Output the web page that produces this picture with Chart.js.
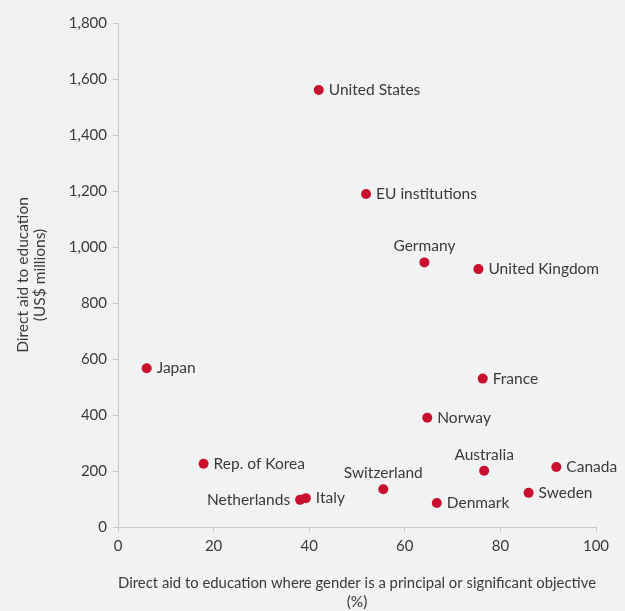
<!DOCTYPE html>
<html><head><meta charset="utf-8">
<script src="https://cdn.jsdelivr.net/npm/chart.js@4/dist/chart.umd.min.js"></script>
<style>html,body{margin:0;padding:0;background:#f1f2f4;}#wrap{width:625px;height:611px;}</style>
</head><body><div id="wrap"><canvas id="c" width="625" height="611"></canvas></div>
<script>
const donors = ["United States","EU institutions","Germany","United Kingdom","Japan","France","Norway","Rep. of Korea","Australia","Canada","Switzerland","Sweden","Netherlands","Italy","Denmark"];
const genderShare = [42.0,51.9,64.1,75.4,6.0,76.3,64.7,17.9,76.6,91.7,55.5,85.9,38.1,39.3,66.7];
const aidAmount = [1561,1189,945,921,567,530,390,226,201,214,135,122,97,103,86];
const xTicks = [0,20,40,60,80,100];
const yTicks = [0,200,400,600,800,1000,1200,1400,1600,1800];

const placement = {"Germany":"above","Australia":"above","Switzerland":"above","Netherlands":"left"};
const FONT = "Lato, 'Open Sans', sans-serif";
const TXT = "#3a3a3a";

const labelPlugin = {
  id: "pointLabels",
  afterDatasetsDraw(chart) {
    const ctx = chart.ctx;
    const meta = chart.getDatasetMeta(0);
    ctx.save();
    ctx.font = "15.5px " + FONT;
    ctx.fillStyle = TXT;
    meta.data.forEach((pt, i) => {
      const name = donors[i];
      const p = placement[name] || "right";
      if (p === "right") { ctx.textAlign = "left"; ctx.textBaseline = "middle"; ctx.fillText(name, pt.x + 10, pt.y); }
      else if (p === "left") { ctx.textAlign = "right"; ctx.textBaseline = "middle"; ctx.fillText(name, pt.x - 10, pt.y); }
      else { ctx.textAlign = "center"; ctx.textBaseline = "middle"; ctx.fillText(name, pt.x, pt.y - 16); }
    });
    ctx.restore();
  }
};

new Chart(document.getElementById("c"), {
  type: "scatter",
  data: {
    datasets: [{
      data: genderShare.map((x, i) => ({x: x, y: aidAmount[i]})),
      backgroundColor: "#c8102e",
      borderColor: "#c8102e",
      pointRadius: 5,
      pointHoverRadius: 5,
      borderWidth: 0
    }]
  },
  options: {
    responsive: false,
    animation: false,
    layout: {padding: {left: 0, right: 29, top: 23, bottom: 0}},
    plugins: {legend: {display: false}, tooltip: {enabled: false}},
    scales: {
      x: {
        type: "linear", min: 0, max: 100,
        afterBuildTicks: s => { s.ticks = xTicks.map(v => ({value: v})); },
        afterFit: s => { s.height = 84; },
        grid: {drawOnChartArea: false, color: "#c8c8c8", tickLength: 5},
        border: {color: "#c8c8c8", width: 1},
        ticks: {color: TXT, font: {family: FONT, size: 15}, padding: 5},
        title: {display: true, text: ["Direct aid to education where gender is a principal or significant objective", "(%)"], color: TXT, font: {family: FONT, size: 15.5, lineHeight: 1.2}, padding: {top: 12, bottom: 0}}
      },
      y: {
        type: "linear", min: 0, max: 1800,
        afterBuildTicks: s => { s.ticks = yTicks.map(v => ({value: v})); },
        afterFit: s => { s.width = 118; },
        grid: {drawOnChartArea: false, color: "#c8c8c8", tickLength: 5},
        border: {color: "#c8c8c8", width: 1},
        ticks: {color: TXT, font: {family: FONT, size: 15}, padding: 6, callback: v => v.toLocaleString("en-US")},
        title: {display: true, text: ["Direct aid to education", "(US$ millions)"], color: TXT, font: {family: FONT, size: 15.5, lineHeight: 1.1}, padding: {top: 14, bottom: 0}}
      }
    }
  },
  plugins: [labelPlugin]
});
</script>
</body></html>
